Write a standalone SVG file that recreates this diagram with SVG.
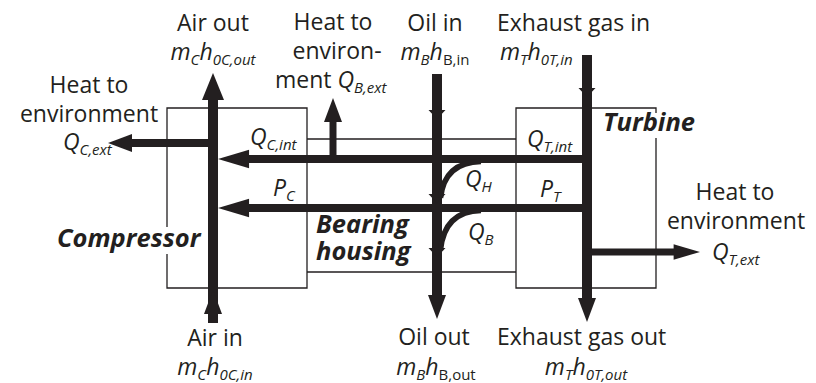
<svg xmlns="http://www.w3.org/2000/svg" xmlns:xlink="http://www.w3.org/1999/xlink" width="816" height="383" viewBox="0 0 816 383">
<style>
  .box{fill:none;stroke:#231f20;stroke-width:1.3}
  .flow{fill:none;stroke:#231f20;stroke-linecap:butt}
  .w10{stroke-width:10}
  .w8{stroke-width:8}
  .w7{stroke-width:7}
  text{font-family:"Open Sans","Noto Sans","Liberation Sans",sans-serif;font-size:23px;fill:#231f20}
  .i{font-style:italic}
  .sub{font-size:15px;font-style:italic}
  .up{font-style:normal}
  .b{font-weight:bold;font-style:italic;font-size:25.5px}
  .m{text-anchor:middle}
</style>
<defs>
  <path id="head" d="M0,0 L-27,-11 L-27,11 Z"/>
  <path id="headS" d="M0,0 L-24,-9 L-24,9 Z"/>
  <path id="barb" d="M0,0 L-9,-8.5 L-9,8.5 Z"/>
</defs>

<g id="compressor">
  <path class="box" d="M167,227 V108 H307 V288 H167 V254"/>
  <text class="b" x="57" y="247">Compressor</text>
</g>
<g id="bearing-housing">
  <path class="box" d="M307,139 H516 M307,272 H516"/>
  <text class="b" x="316" y="233">Bearing</text>
  <text class="b" x="316" y="260">housing</text>
</g>
<g id="turbine">
  <path class="box" d="M656,113 V108 H516 V288 H656 V138"/>
  <text class="b" x="603" y="131">Turbine</text>
</g>

<g id="connectors">
  <!-- compressor air shaft -->
  <line class="flow w10" x1="213" y1="323" x2="213" y2="98"/>
  <use href="#head" fill="#231f20" transform="translate(213,73) rotate(-90)"/>
  <use href="#headS" fill="#231f20" transform="translate(213,290) rotate(-90)"/>
  <!-- Q_C,ext -->
  <line class="flow w8" x1="213" y1="143" x2="132" y2="143"/>
  <use href="#headS" fill="#231f20" transform="translate(108,143) rotate(180)"/>
  <!-- Q_C,int -->
  <line class="flow w8" x1="591" y1="159" x2="246" y2="159"/>
  <use href="#head" fill="#231f20" transform="translate(218,159) scale(1.15,0.85) rotate(180)"/>
  <!-- P_C -->
  <line class="flow w8" x1="591" y1="208" x2="246" y2="208"/>
  <use href="#head" fill="#231f20" transform="translate(218,208) scale(1.15,0.85) rotate(180)"/>
  <!-- Q_B,ext -->
  <line class="flow w7" x1="333" y1="159" x2="333" y2="121"/>
  <use href="#headS" fill="#231f20" transform="translate(333,98) rotate(-90)"/>
  <!-- oil line -->
  <line class="flow w10" x1="437" y1="74" x2="437" y2="298"/>
  <use href="#barb" fill="#231f20" transform="translate(437,119) rotate(90)"/>
  <use href="#barb" fill="#231f20" transform="translate(437,203) rotate(90)"/>
  <use href="#barb" fill="#231f20" transform="translate(437,257) rotate(90)"/>
  <use href="#headS" fill="#231f20" transform="translate(437,319) rotate(90)"/>
  <!-- exhaust line -->
  <line class="flow w10" x1="587" y1="55" x2="587" y2="298"/>
  <use href="#barb" fill="#231f20" transform="translate(587,97) rotate(90)"/>
  <use href="#headS" fill="#231f20" transform="translate(587,322) rotate(90)"/>
  <!-- Q_T,ext -->
  <line class="flow w7" x1="587" y1="252" x2="674" y2="252"/>
  <use href="#headS" fill="#231f20" transform="translate(700,252) scale(1.1,0.85)"/>
  <!-- Q_H and Q_B curves -->
  <path class="flow" stroke-width="5.5" d="M481,161.5 C456,162 443,175 440.5,198"/>
  <path class="flow" stroke-width="5.5" d="M481,210.5 C456,211 443,225 440.5,250"/>
</g>

<g id="labels-top">
  <text class="m" x="213" y="31">Air out</text>
  <text class="m" x="213" y="60"><tspan class="i">m</tspan><tspan class="sub" dy="5">C</tspan><tspan class="i" dy="-5">h</tspan><tspan class="sub" dy="5">0C,out</tspan></text>
  <text class="m" x="333" y="30">Heat to</text>
  <text class="m" x="337" y="59">environ-</text>
  <text x="275" y="88">ment <tspan class="i">Q</tspan><tspan class="sub" dy="5">B,ext</tspan></text>
  <text class="m" x="435" y="31">Oil in</text>
  <text class="m" x="435" y="60"><tspan class="i">m</tspan><tspan class="sub" dy="5">B</tspan><tspan class="i" dy="-5">h</tspan><tspan class="sub up" dy="5">B,in</tspan></text>
  <text x="497" y="31">Exhaust gas in</text>
  <text x="500" y="60"><tspan class="i">m</tspan><tspan class="sub" dy="5">T</tspan><tspan class="i" dy="-5">h</tspan><tspan class="sub" dy="5">0T,in</tspan></text>
</g>
<g id="labels-left">
  <text class="m" x="89" y="93">Heat to</text>
  <text class="m" x="89" y="122">environment</text>
  <text x="63" y="150"><tspan class="i">Q</tspan><tspan class="sub" dy="5">C,ext</tspan></text>
</g>
<g id="labels-inner">
  <text x="250" y="145"><tspan class="i">Q</tspan><tspan class="sub" dy="5">C,int</tspan></text>
  <text x="273" y="196"><tspan class="i">P</tspan><tspan class="sub" dy="5">C</tspan></text>
  <text x="527" y="147"><tspan class="i">Q</tspan><tspan class="sub" dy="5">T,int</tspan></text>
  <text x="540" y="197"><tspan class="i">P</tspan><tspan class="sub" dy="5">T</tspan></text>
  <text x="465" y="187"><tspan class="i">Q</tspan><tspan class="sub" dy="5">H</tspan></text>
  <text x="468" y="240"><tspan class="i">Q</tspan><tspan class="sub" dy="5">B</tspan></text>
</g>
<g id="labels-right">
  <text class="m" x="735" y="200">Heat to</text>
  <text class="m" x="736" y="229">environment</text>
  <text x="712" y="260"><tspan class="i">Q</tspan><tspan class="sub" dy="5">T,ext</tspan></text>
</g>
<g id="labels-bottom">
  <text class="m" x="215" y="346">Air in</text>
  <text class="m" x="215" y="375"><tspan class="i">m</tspan><tspan class="sub" dy="5">C</tspan><tspan class="i" dy="-5">h</tspan><tspan class="sub" dy="5">0C,in</tspan></text>
  <text class="m" x="434" y="345">Oil out</text>
  <text class="m" x="436" y="375"><tspan class="i">m</tspan><tspan class="sub" dy="5">B</tspan><tspan class="i" dy="-5">h</tspan><tspan class="sub up" dy="5">B,out</tspan></text>
  <text x="497" y="345">Exhaust gas out</text>
  <text class="m" x="586" y="375"><tspan class="i">m</tspan><tspan class="sub" dy="5">T</tspan><tspan class="i" dy="-5">h</tspan><tspan class="sub" dy="5">0T,out</tspan></text>
</g>
</svg>
